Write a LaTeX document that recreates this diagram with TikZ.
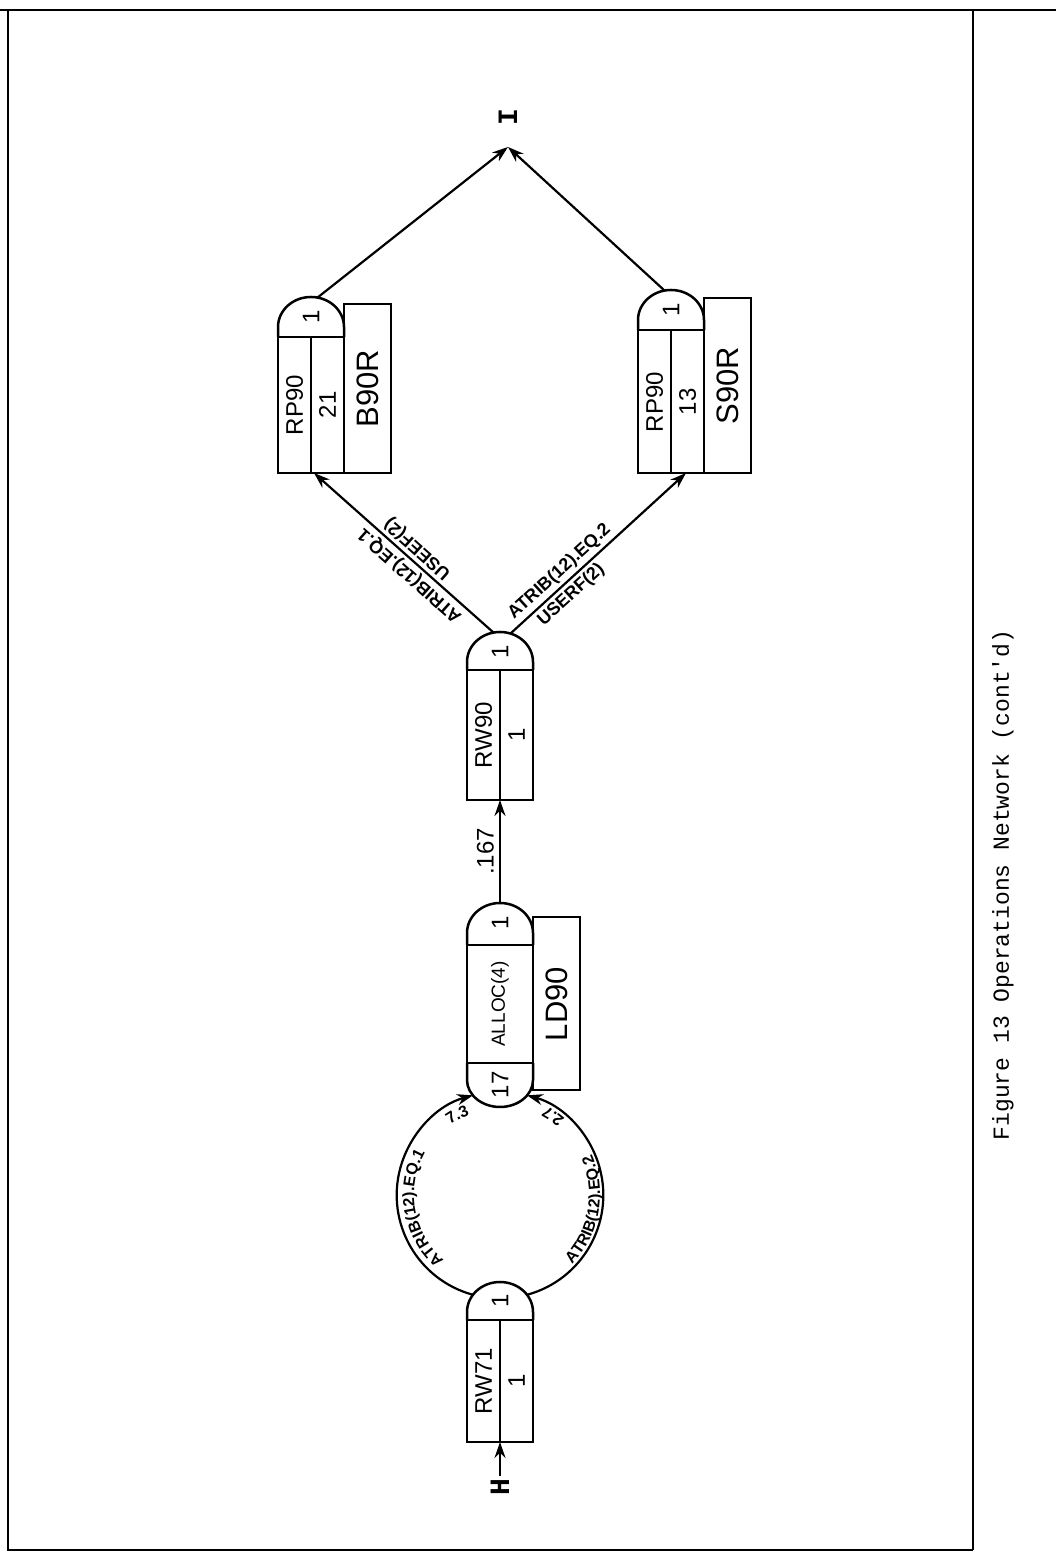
\documentclass[tikz,border=0pt]{standalone}
\usepackage{fontspec}
\setmainfont{Liberation Sans}
\newfontfamily\handfont{Liberation Sans}
\newfontfamily\typefont{Liberation Mono}
\usetikzlibrary{arrows.meta,decorations.text}
\newcommand\arcfont{\handfont\bfseries\fontsize{16}{16}\selectfont}
\tikzset{
 ln/.style={line width=2.5pt},
 arr/.style={line width=2.2pt,-{Stealth[length=16pt,width=11pt]}},
 lab/.style={rotate=90,inner sep=0pt,font=\handfont\fontsize{24}{24}\selectfont},
 biglab/.style={rotate=90,inner sep=0pt,font=\handfont\fontsize{31}{31}\selectfont},
 smlab/.style={rotate=90,inner sep=0pt,font=\handfont\fontsize{19}{19}\selectfont},
 brlab/.style={inner sep=0pt,font=\handfont\bfseries\fontsize{18}{18}\selectfont},
 numlab/.style={inner sep=0pt,font=\handfont\fontsize{24}{24}\selectfont},
 typ/.style={rotate=90,inner sep=2pt,font=\typefont\bfseries\fontsize{28}{28}\selectfont},
 captxt/.style={rotate=90,inner sep=0pt,font=\typefont\fontsize{23}{23}\selectfont},
}
\begin{document}
\begin{tikzpicture}[x=1pt,y=1pt]
\useasboundingbox (0,0) rectangle (1056,1557);
% frame
\draw[line width=2.6pt] (0,1547) -- (1056,1547);
\draw[line width=1.6pt] (8,1547) -- (8,7) -- (973,7);
\draw[line width=1.3pt] (973,1547) -- (973,7);

% ---------- RW71 ----------
\draw[ln] (467,115) rectangle (533,237);
\draw[ln] (500,115) -- (500,237);
\draw[ln] (467,237) -- (467,245) arc[start angle=180,end angle=0,x radius=33,y radius=30] -- (533,237);
\node[lab] (rw71name) at (483.5,176) {RW71};
\node[lab] (rw71num) at (516.5,176) {1};
\node[lab] (rw71cap) at (500,256) {1};
\coordinate (rw71bot) at (500,115);
\coordinate (rw71L) at (473,262.2);
\coordinate (rw71R) at (527,262.2);

% ---------- ALLOC ----------
\draw[ln] (467,494) rectangle (533,612);
\draw[ln] (467,612) -- (467,624) arc[start angle=180,end angle=0,x radius=33,y radius=30] -- (533,612);
\draw[ln] (467,494) -- (467,477) arc[start angle=180,end angle=360,x radius=33,y radius=27] -- (533,494);
\draw[ln] (533,467) rectangle (580,640);
\node[smlab] (allocname) at (500,553) {ALLOC(4)};
\node[lab] (alloccap) at (500,634) {1};
\node[lab] (allocnum) at (500,472) {17};
\node[biglab] (ld90) at (556.5,553) {LD90};
\coordinate (alloctop) at (500,654);

% ---------- RW90 ----------
\draw[ln] (467,757) rectangle (533,887);
\draw[ln] (500,757) -- (500,887);
\draw[ln] (467,887) -- (467,895) arc[start angle=180,end angle=0,x radius=33,y radius=30] -- (533,887);
\node[lab] (rw90name) at (483.5,822) {RW90};
\node[lab] (rw90num) at (516.5,822) {1};
\node[lab] (rw90cap) at (500,905) {1};
\coordinate (rw90bot) at (500,757);
\coordinate (rw90L) at (494,924);
\coordinate (rw90R) at (510,923);

% ---------- RP90 left ----------
\draw[ln] (278,1084) rectangle (344,1220);
\draw[ln] (311,1084) -- (311,1220);
\draw[ln] (278,1220) -- (278,1230) arc[start angle=180,end angle=0,x radius=33,y radius=30] -- (344,1220);
\draw[ln] (344,1084) rectangle (391,1253);
\node[lab] (rpLname) at (294.5,1152) {RP90};
\node[lab] (rpLnum) at (327.5,1152) {21};
\node[lab] (rpLcap) at (311,1240) {1};
\node[biglab] (b90r) at (367.5,1168.5) {B90R};
\coordinate (rpLbot) at (314,1084);
\coordinate (rpLtop) at (317,1259);

% ---------- RP90 right ----------
\draw[ln] (638,1084) rectangle (704,1227);
\draw[ln] (671,1084) -- (671,1227);
\draw[ln] (638,1227) -- (638,1237) arc[start angle=180,end angle=0,x radius=33,y radius=30] -- (704,1227);
\draw[ln] (704,1084) rectangle (751,1259);
\node[lab] (rpRname) at (654.5,1155) {RP90};
\node[lab] (rpRnum) at (687.5,1155) {13};
\node[lab] (rpRcap) at (671,1247) {1};
\node[biglab] (s90r) at (727.5,1171.5) {S90R};
\coordinate (rpRbot) at (686,1084);
\coordinate (rpRtop) at (665,1266);

% ---------- H and I ----------
\node[typ] (hlab) at (500,70) {H};
\node[typ] (ilab) at (508,1440) {I};
\coordinate (itip) at (508,1410);

% ---------- connectors ----------
\draw[arr] (hlab) -- (rw71bot);
\draw[arr] (rw71L) arc[start angle=254.85,end angle=105.15,radius=103.3];
\draw[arr] (rw71R) arc[start angle=-74.85,end angle=74.85,radius=103.3];
\coordinate (cc) at (500,361.9);
\path[decorate,decoration={text along path,text={|\arcfont|ATRIB(12).EQ.1},text align=center}]
  ([shift={(245:86)}]cc) arc[start angle=245,end angle=135,radius=86];
\path[decorate,decoration={text along path,text={|\arcfont|7.3},text align=center}]
  ([shift={(132:86)}]cc) arc[start angle=132,end angle=104,radius=86];
\path[decorate,decoration={text along path,text={|\arcfont|ATRIB(12).EQ.2},text align=center}]
  ([shift={(-65:100)}]cc) arc[start angle=-65,end angle=45,radius=100];
\path[decorate,decoration={text along path,text={|\arcfont|2.7},text align=center}]
  ([shift={(42:100)}]cc) arc[start angle=42,end angle=70,radius=100];

\draw[arr] (alloctop) -- node[sloped,above=5pt,numlab] (l167) {.167} (rw90bot);

\draw[arr] (rw90L) -- node[pos=0.42,sloped,allow upside down,above=3pt,brlab] (lblL1) {ATRIB(12).EQ.1}
  node[pos=0.47,sloped,allow upside down,below=3pt,brlab] (lblL2) {USEEF(2)} (rpLbot);
\draw[arr] (rw90R) -- node[pos=0.33,sloped,above=3pt,brlab] (lblR1) {ATRIB(12).EQ.2}
  node[pos=0.3,sloped,below=3pt,brlab] (lblR2) {USERF(2)} (rpRbot);

\draw[arr] (rpLtop) -- (itip);
\draw[arr] (rpRtop) -- (itip);

% caption
\node[captxt] (caption) at (1003,672) {Figure 13 Operations Network (cont'd)};
\end{tikzpicture}
\end{document}
